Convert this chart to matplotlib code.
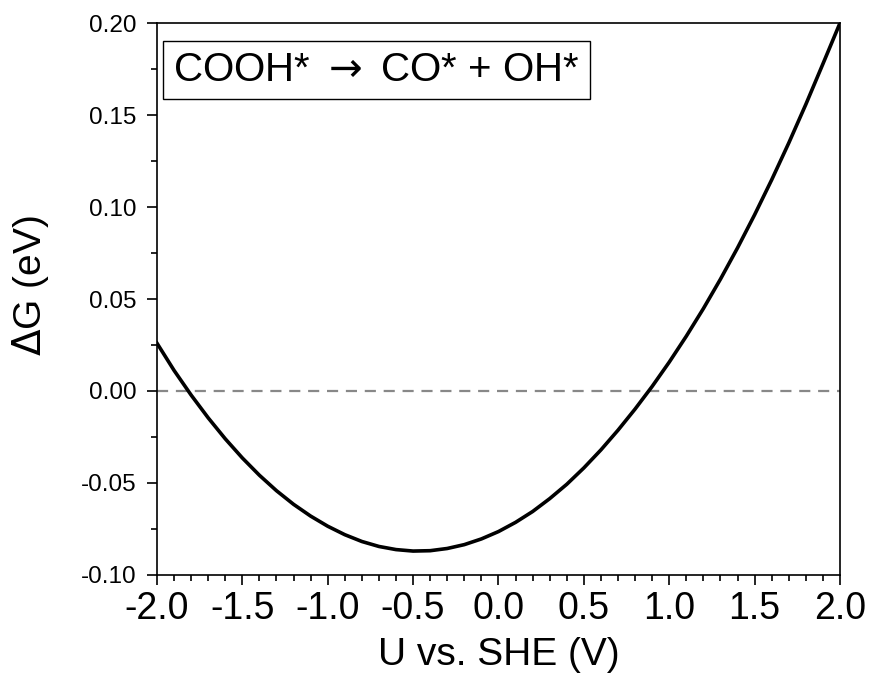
import matplotlib
matplotlib.use('Agg')
import matplotlib.pyplot as plt
from matplotlib.ticker import MultipleLocator, FormatStrFormatter

# Free energy of COOH* -> CO* + OH* vs potential
u_she = [-2.0, -1.9, -1.8, -1.7, -1.6, -1.5, -1.4, -1.3, -1.2, -1.1, -1.0,
         -0.9, -0.8, -0.7, -0.6, -0.5, -0.4, -0.3, -0.2, -0.1, 0.0,
         0.1, 0.2, 0.3, 0.4, 0.5, 0.6, 0.7, 0.8, 0.9, 1.0,
         1.1, 1.2, 1.3, 1.4, 1.5, 1.6, 1.7, 1.8, 1.9, 2.0]
delta_g = [0.026, 0.0112, -0.0022, -0.0146, -0.026, -0.0364, -0.0458, -0.0542, -0.0616, -0.068, -0.0735,
           -0.0781, -0.0818, -0.0845, -0.0862, -0.0870, -0.0868, -0.0856, -0.0835, -0.0804, -0.0764,
           -0.0714, -0.0655, -0.0585, -0.0507, -0.0418, -0.032, -0.0213, -0.0098, 0.0025, 0.0157,
           0.0298, 0.0448, 0.0608, 0.0778, 0.0958, 0.1148, 0.1348, 0.1558, 0.1778, 0.200]

plt.rcParams['font.family'] = ['Liberation Sans', 'DejaVu Sans']
plt.rcParams['mathtext.fontset'] = 'dejavusans'
plt.rcParams['axes.unicode_minus'] = False

fig = plt.figure(figsize=(8.73, 7.0), dpi=100)
ax = fig.add_axes([0.1798, 0.1786, 0.7824, 0.7885])

ax.axhline(0, color='#888888', lw=1.6, ls=(0, (5, 3.5)), zorder=1)
ax.plot(u_she, delta_g, color='black', lw=2.6, zorder=2)

ax.set_xlim(-2.0, 2.0)
ax.set_ylim(-0.10, 0.20)
ax.xaxis.set_major_locator(MultipleLocator(0.5))
ax.xaxis.set_minor_locator(MultipleLocator(0.1))
ax.yaxis.set_major_locator(MultipleLocator(0.05))
ax.yaxis.set_minor_locator(MultipleLocator(0.025))
ax.xaxis.set_major_formatter(FormatStrFormatter('%.1f'))
ax.yaxis.set_major_formatter(FormatStrFormatter('%.2f'))

for s in ax.spines.values():
    s.set_linewidth(1.2)
ax.tick_params(which='both', direction='out', width=1.2, top=False, right=False)
ax.tick_params(which='major', length=7.5)
ax.tick_params(which='minor', length=4)
ax.tick_params(axis='x', which='major', labelsize=27, pad=4)
ax.tick_params(axis='y', which='major', labelsize=17.5, pad=7)

ax.set_xlabel('U vs. SHE (V)', fontsize=28, labelpad=7)
ax.set_ylabel(r'$\Delta$G (eV)', fontsize=28)
ax.yaxis.set_label_coords(-0.155, 0.525)

ax.text(0.0234, 0.949, r'COOH*$\;\rightarrow\;$CO* + OH*', transform=ax.transAxes,
        fontsize=29, va='top', ha='left',
        bbox=dict(boxstyle='square,pad=0.25', fc='white', ec='black', lw=1.0))

fig.savefig('out.png', dpi=100)
